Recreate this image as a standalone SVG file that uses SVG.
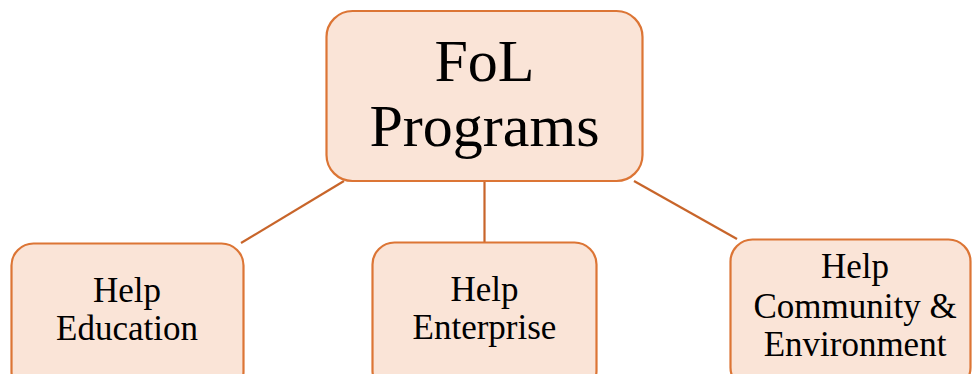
<svg xmlns="http://www.w3.org/2000/svg" width="972" height="374" viewBox="0 0 972 374">
<style>
.box{fill:#FAE4D7;stroke:#DC7535;stroke-width:2.2}
.t{font-family:"Liberation Serif","DejaVu Serif",serif;fill:#000;text-anchor:middle}
.s{font-size:35px}
.b{font-size:60px}
.c{stroke:#C8652A;stroke-width:2.2;fill:none}
</style>
<rect width="972" height="374" fill="#fff"/>
<g id="connectors">
<line class="c" x1="344" y1="181" x2="241" y2="243"/>
<line class="c" x1="484.5" y1="181" x2="484.5" y2="242"/>
<line class="c" x1="634" y1="181" x2="737" y2="239"/>
</g>
<g id="root">
<rect class="box" x="326.5" y="11" width="316" height="170" rx="26"/>
<text class="t b" x="484.5" y="81">FoL</text>
<text class="t b" x="484.5" y="146">Programs</text>
</g>
<g id="education">
<rect class="box" x="11.5" y="243.5" width="232" height="150" rx="22"/>
<text class="t s" x="127" y="302">Help</text>
<text class="t s" x="127" y="340">Education</text>
</g>
<g id="enterprise">
<rect class="box" x="372.5" y="242.5" width="224" height="150" rx="22"/>
<text class="t s" x="484.5" y="301">Help</text>
<text class="t s" x="484.5" y="339">Enterprise</text>
</g>
<g id="community">
<rect class="box" x="730.5" y="239.5" width="240" height="150" rx="22"/>
<text class="t s" x="855" y="278">Help</text>
<text class="t s" x="855" y="318">Community &amp;</text>
<text class="t s" x="855" y="356">Environment</text>
</g>
</svg>
